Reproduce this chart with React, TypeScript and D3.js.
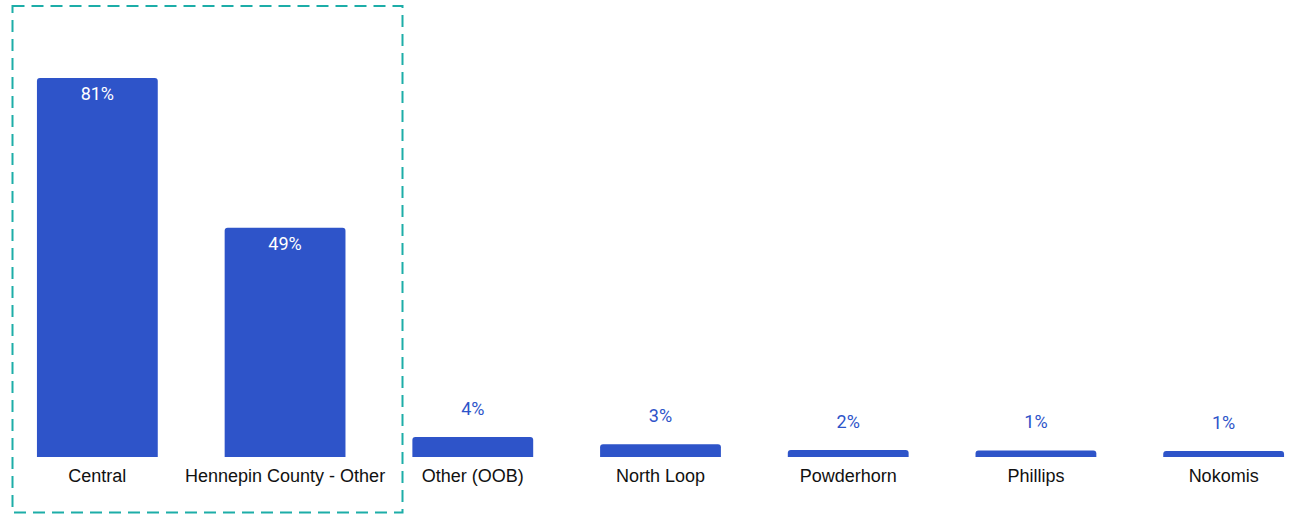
import React from "react";
import * as d3 from "d3";

const categories = ["Central", "Hennepin County - Other", "Other (OOB)", "North Loop", "Powderhorn", "Phillips", "Nokomis"];
const values = [81, 49, 4.3, 2.7, 1.5, 1.4, 1.3];

const W = 1289;
const H = 514;
const BAR_COLOR = "#2E54C9";

function topRoundedRect(x: number, y: number, w: number, h: number, r: number) {
  const rr = Math.min(r, h, w / 2);
  return `M${x},${y + h}V${y + rr}Q${x},${y} ${x + rr},${y}H${x + w - rr}Q${x + w},${y} ${x + w},${y + rr}V${y + h}Z`;
}

export default function App() {
  const x = d3
    .scaleBand<string>()
    .domain(categories)
    .range([3.5, 1317.5])
    .paddingInner(67 / 188)
    .paddingOuter(67 / 376);
  const y = d3.scaleLinear().domain([0, 81]).range([457, 78]);

  return (
    <svg
      width={W}
      height={H}
      style={{ position: "absolute", left: 0, top: 0, background: "#fff" }}
    >
      <rect
        x={12.5}
        y={6}
        width={390}
        height={506.5}
        fill="none"
        stroke="#1DADA8"
        strokeWidth={2}
        strokeDasharray="12,7"
      />
      {categories.map((c, i) => {
        const v = values[i];
        const bx = x(c)!;
        const bw = x.bandwidth();
        const top = y(v);
        const h = y(0) - top;
        const inside = h > 40;
        const cx = bx + bw / 2;
        return (
          <g key={c}>
            <path d={topRoundedRect(bx, top, bw, h, 3)} fill={BAR_COLOR} />
            <text
              x={cx}
              y={inside ? top + 22 : top - 22}
              textAnchor="middle"
              fontFamily="Roboto, sans-serif"
              fontSize={18}
              fill={inside ? "#ffffff" : BAR_COLOR}
              stroke={inside ? "none" : "#ffffff"}
              strokeWidth={inside ? 0 : 3}
              style={{ paintOrder: "stroke" }}
            >
              {`${Math.round(v)}%`}
            </text>
            <text
              x={cx}
              y={481.5}
              textAnchor="middle"
              fontFamily="'Liberation Sans', Arial, sans-serif"
              fontSize={18}
              fill="#111111"
            >
              {c}
            </text>
          </g>
        );
      })}
    </svg>
  );
}
